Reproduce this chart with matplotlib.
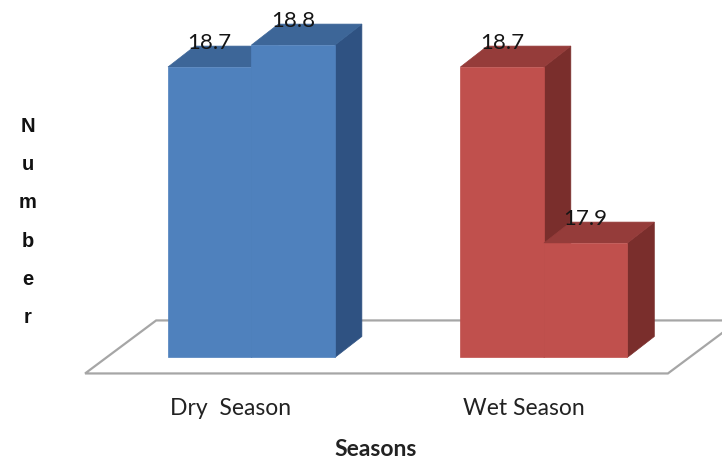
import matplotlib
matplotlib.use("Agg")
import matplotlib.pyplot as plt
from matplotlib.patches import Polygon

# Data
seasons = ["Dry  Season", "Wet Season"]
first_values = [18.7, 18.7]
second_values = [18.8, 17.9]
front_colors = ["#4F81BD", "#C0504D"]
top_colors = ["#3D6698", "#953C3A"]
side_colors = ["#2F5282", "#7A2E2C"]

axis_floor = 17.38          # value where the columns stand
bar_w = 0.2855              # width of one column (category units)
depth_x, depth_y = 0.092, 0.095   # 3-D depth offset of the columns
floor_dx, floor_dy = 0.243, 0.241  # depth offset of the floor plane

fig = plt.figure(figsize=(7.22, 4.63), dpi=100)
ax = fig.add_axes([0, 0, 1, 1])
ax.set_xlim(-0.860, 1.609)
ax.set_ylim(16.9, 19.0045)
ax.axis("off")

# floor plane
fl_left, fl_right = -0.569, 1.424
fl_front = axis_floor - 0.073
floor = Polygon([(fl_left, fl_front), (fl_right, fl_front),
                 (fl_right + floor_dx, fl_front + floor_dy),
                 (fl_left + floor_dx, fl_front + floor_dy)],
                closed=True, facecolor="white", edgecolor="#a6a6a6",
                linewidth=1.6, zorder=1)
ax.add_patch(floor)


def column(x0, value, fc, tc, sc, z):
    x1 = x0 + bar_w
    b = axis_floor
    side = [(x1, b), (x1 + depth_x, b + depth_y),
            (x1 + depth_x, value + depth_y), (x1, value)]
    top = [(x0, value), (x1, value),
           (x1 + depth_x, value + depth_y), (x0 + depth_x, value + depth_y)]
    front = [(x0, b), (x1, b), (x1, value), (x0, value)]
    for pts, col in ((side, sc), (top, tc), (front, fc)):
        ax.add_patch(Polygon(pts, closed=True, facecolor=col,
                             edgecolor=col, linewidth=0.5, zorder=z))


label_font = ["Lato", "DejaVu Sans"]
for i, (v1, v2) in enumerate(zip(first_values, second_values)):
    column(i - bar_w, v1, front_colors[i], top_colors[i], side_colors[i], 2)
    column(i, v2, front_colors[i], top_colors[i], side_colors[i], 3)
    for x0, v in ((i - bar_w, v1), (i, v2)):
        ax.text(x0 + bar_w / 2, v + depth_y - 0.012, f"{v:.1f}",
                ha="center", va="baseline", fontsize=16,
                family=label_font, color="#151515", zorder=5)

# category labels
for i, name in enumerate(seasons):
    ax.text(i - 0.07, 16.9 + (463 - 409) / 220, name, ha="center",
            va="center", fontsize=16.5, family=label_font, color="#222222")

fig.text(376 / 722, 1 - 450 / 463, "Seasons", ha="center", va="center",
         fontsize=16.5, fontweight="bold", family=label_font, color="#222222")
fig.text(28 / 722, 1 - 222 / 463, "N\nu\nm\nb\ne\nr", ha="center",
         va="center", fontsize=14.5, fontweight="bold", linespacing=2.27,
         family=["Liberation Sans", "DejaVu Sans"], color="#111111")

fig.savefig("out.png", dpi=100, facecolor="white")
